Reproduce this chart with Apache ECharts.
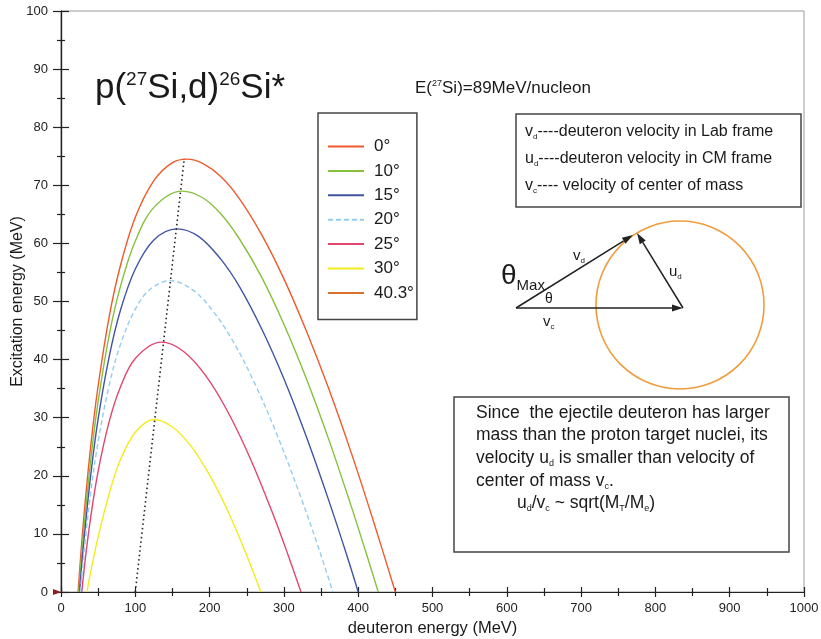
<!DOCTYPE html>
<html>
<head>
<meta charset="utf-8">
<script src="https://cdn.jsdelivr.net/npm/echarts@6/dist/echarts.min.js"></script>
<style>
  html, body { margin: 0; padding: 0; background: #fff; }
  #chart { width: 821px; height: 639px; }
</style>
</head>
<body>
<div id="chart"></div>
<script>
// lab angle of each kinematic curve
const angleNames = ['0°', '10°', '15°', '20°', '25°', '30°', '40.3°'];

// [deuteron energy (MeV), excitation energy (MeV)]
const curve0 = [[23, 0], [30, 11.8], [40, 25.1], [50, 35.5], [65, 47.5], [80, 56.2], [100, 64.5], [125, 70.8], [150, 73.9], [170, 74.5], [190, 73.8], [215, 71.5], [240, 67.7], [270, 61.5], [300, 53.9], [330, 45.0], [360, 35.1], [390, 24.2], [420, 12.4], [450, 0]];
const curve10 = [[24, 0], [30, 9.7], [40, 22.7], [50, 32.8], [65, 44.3], [80, 52.6], [100, 60.4], [125, 66.2], [163, 69.0], [190, 67.9], [215, 65.1], [240, 60.8], [270, 54.2], [300, 46.1], [330, 36.8], [360, 26.4], [390, 15.0], [410, 7.0], [427, 0]];
const curve15 = [[25, 0], [30, 7.7], [40, 20.1], [50, 29.8], [65, 40.6], [80, 48.5], [100, 55.6], [125, 60.6], [156, 62.5], [185, 61.2], [215, 57.3], [240, 52.6], [270, 45.3], [300, 36.7], [330, 26.8], [360, 15.9], [385, 6.2], [400, 0]];
const curve20 = [[26, 0], [30, 5.6], [40, 17.1], [50, 25.9], [65, 35.7], [80, 42.6], [100, 48.7], [120, 52.1], [147, 53.6], [175, 52.2], [200, 49.1], [230, 43.5], [260, 36.1], [290, 27.3], [320, 17.3], [345, 8.2], [366, 0]];
const curve25 = [[28, 0], [33, 6.0], [40, 12.9], [50, 20.8], [65, 29.4], [80, 35.3], [100, 40.2], [135, 43.0], [165, 41.4], [195, 37.2], [225, 30.9], [255, 22.9], [285, 13.5], [305, 6.6], [323, 0]];
const curve30 = [[35, 0], [40, 3.5], [50, 9.5], [65, 17.0], [80, 22.8], [100, 27.5], [125, 29.7], [150, 28.4], [175, 25.1], [200, 20.1], [225, 13.8], [250, 6.3], [269, 0]];
const curve40 = [];   // beyond theta max: legend only

// dotted line through the maxima
const peakLine = [[100, 0], [166, 74.7]];

const curves = [curve0, curve10, curve15, curve20, curve25, curve30, curve40];
const lineColors = ['#ee5a2c', '#86c03c', '#3f55a3', '#96cdee', '#e2466f', '#f3ec1f', '#d8702e'];
const lineTypes = ['solid', 'solid', 'solid', [5, 3], 'solid', 'solid', 'solid'];

const FONT = 'Liberation Sans, Arial, sans-serif';

const chart = echarts.init(document.getElementById('chart'));

const series = angleNames.map(function (name, i) {
  return {
    name: name,
    type: 'line',
    data: curves[i],
    symbol: 'none',
    smooth: 0.35,
    lineStyle: { color: lineColors[i], width: 1.4, type: lineTypes[i] },
    itemStyle: { color: lineColors[i] },
    z: 3
  };
});
// the maxima line sits on the twin axes (same ranges) so they get drawn too
series.push({
  name: 'maxima',
  type: 'line',
  xAxisIndex: 1,
  yAxisIndex: 1,
  data: peakLine,
  symbol: 'none',
  lineStyle: { color: '#222', width: 1.6, type: [1.5, 3] },
  z: 4
});

// arrow helper for the velocity sketch
function arrow(x1, y1, x2, y2) {
  const a = Math.atan2(y2 - y1, x2 - x1);
  const len = 11, hw = 3.5;
  const bx = x2 - len * Math.cos(a), by = y2 - len * Math.sin(a);
  return [
    { type: 'line', shape: { x1: x1, y1: y1, x2: bx, y2: by }, style: { stroke: '#222', lineWidth: 1.5 } },
    { type: 'polygon', shape: { points: [[x2, y2], [bx - hw * Math.sin(a), by + hw * Math.cos(a)], [bx + hw * Math.sin(a), by - hw * Math.cos(a)]] }, style: { fill: '#222' } }
  ];
}

function txt(x, y, text, size, rich) {
  return {
    type: 'text', x: x, y: y,
    style: { text: text, fontSize: size, fontFamily: FONT, fill: '#1a1a1a', verticalAlign: 'middle', rich: rich || {} }
  };
}

const subRich = function (size, drop) {
  return { s: { fontSize: size, fontFamily: FONT, fill: '#1a1a1a', padding: [drop, 0, 0, 0] } };
};

const graphics = [
  txt(95, 88, 'p({sup|27}Si,d){sup|26}Si*', 35, {
    sup: { fontSize: 19, fontFamily: FONT, fill: '#1a1a1a', padding: [0, 0, 17, 0] }
  }),
  txt(415, 88, 'E({sup|27}Si)=89MeV/nucleon', 17, {
    sup: { fontSize: 9, fontFamily: FONT, fill: '#1a1a1a', padding: [0, 0, 9, 0] }
  }),
  // small marker at the origin
  { type: 'polygon', shape: { points: [[53, 589], [61, 592], [53, 595]] }, style: { fill: '#8a1c1c' }, z: 10 },
  // definitions box
  { type: 'rect', shape: { x: 516, y: 114, width: 285, height: 93 }, style: { fill: '#fff', stroke: '#444', lineWidth: 1.5 } },
  txt(525, 132, 'v{s|d}----deuteron velocity in Lab frame', 16, subRich(8, 10)),
  txt(525, 159, 'u{s|d}----deuteron velocity in CM frame', 16, subRich(8, 10)),
  txt(525, 186, 'v{s|c}---- velocity of center of mass', 16, subRich(8, 10)),
  // velocity sketch
  { type: 'circle', shape: { cx: 680, cy: 305, r: 84 }, style: { fill: 'none', stroke: '#ef9c3c', lineWidth: 1.6 } }
].concat(arrow(516, 308, 683, 308), arrow(683, 308, 637, 233), arrow(516, 308, 633, 235), [
  txt(501, 276, 'θ{s|Max}', 28, { s: { fontSize: 15, fontFamily: FONT, fill: '#1a1a1a', padding: [20, 0, 0, 0] } }),
  txt(573, 256, 'v{s|d}', 15, subRich(8, 10)),
  txt(669, 272, 'u{s|d}', 15, subRich(8, 10)),
  txt(545, 299, 'θ', 14),
  txt(543, 322, 'v{s|c}', 15, subRich(8, 10)),
  // explanation box
  { type: 'rect', shape: { x: 454, y: 397, width: 335, height: 155 }, style: { fill: '#fff', stroke: '#444', lineWidth: 1.5 } },
  txt(476, 413, 'Since  the ejectile deuteron has larger', 17.5),
  txt(476, 435, 'mass than the proton target nuclei, its', 17.5),
  txt(476, 458, 'velocity u{s|d} is smaller than velocity of', 17.5, subRich(9, 11)),
  txt(476, 481, 'center of mass v{s|c}.', 17.5, subRich(9, 11)),
  txt(517, 503, 'u{s|d}/v{s|c} ~ sqrt(M{s|T}/M{s|e})', 17.5, subRich(9, 11))
]);

const plainLabel = function (v) { return String(v); };

const option = {
  animation: false,
  backgroundColor: '#fff',
  grid: {
    left: 61, right: 17, top: 11, bottom: 47,
    outerBoundsMode: 'none', containLabel: false,
    show: true, borderColor: '#9a9a9a', borderWidth: 1
  },
  legend: {
    data: angleNames,
    orient: 'vertical',
    left: 318,
    top: 113,
    itemWidth: 36,
    itemHeight: 14,
    itemGap: 7.4,
    padding: [25, 3, 18, 9],
    borderColor: '#444',
    borderWidth: 1.5,
    backgroundColor: '#fff',
    itemStyle: { opacity: 0 },
    textStyle: { fontSize: 17, color: '#1a1a1a', fontFamily: FONT, padding: [0, 0, 0, 5] }
  },
  xAxis: [{
    type: 'value', min: 0, max: 1000, interval: 100,
    name: 'deuteron energy (MeV)', nameLocation: 'middle', nameGap: 28, nameMoveOverlap: false,
    nameTextStyle: { fontSize: 16.5, color: '#1a1a1a', fontFamily: FONT },
    axisLine: { show: true, onZero: false, lineStyle: { color: '#222', width: 1.2 } },
    axisTick: { show: true, length: 5, lineStyle: { color: '#222', width: 1.2 } },
    minorTick: { show: true, splitNumber: 2, length: 4, lineStyle: { color: '#222', width: 1.2 } },
    splitLine: { show: false },
    axisLabel: { margin: 10, fontSize: 13, color: '#222', fontFamily: FONT, formatter: plainLabel }
  }, {
    // twin axis: only its inward ticks are visible
    type: 'value', min: 0, max: 1000, interval: 100, position: 'bottom',
    axisLine: { show: true, onZero: false, lineStyle: { color: '#222', width: 1.2 } },
    axisTick: { show: true, inside: true, length: 5, lineStyle: { color: '#222', width: 1.2 } },
    minorTick: { show: true, splitNumber: 2, length: 4, lineStyle: { color: '#222', width: 1.2 } },
    splitLine: { show: false },
    axisLabel: { show: true, color: 'rgba(0,0,0,0)', fontSize: 13, formatter: plainLabel }
  }],
  yAxis: [{
    type: 'value', min: 0, max: 100, interval: 10,
    name: 'Excitation energy (MeV)', nameLocation: 'middle', nameGap: 35, nameMoveOverlap: false,
    nameTextStyle: { fontSize: 16, color: '#1a1a1a', fontFamily: FONT },
    axisLine: { show: true, onZero: false, lineStyle: { color: '#222', width: 1.2 } },
    axisTick: { show: true, length: 8, lineStyle: { color: '#222', width: 1.2 } },
    minorTick: { show: true, splitNumber: 2, length: 4, lineStyle: { color: '#222', width: 1.2 } },
    splitLine: { show: false },
    axisLabel: { margin: 13, fontSize: 13, color: '#222', fontFamily: FONT, formatter: plainLabel }
  }, {
    // twin axis moved onto the left edge so its outward ticks point into the plot
    type: 'value', min: 0, max: 100, interval: 10, position: 'right', offset: -743,
    axisLine: { show: true, onZero: false, lineStyle: { color: '#222', width: 1.2 } },
    axisTick: { show: true, inside: false, length: 8, lineStyle: { color: '#222', width: 1.2 } },
    minorTick: { show: true, splitNumber: 2, length: 4, lineStyle: { color: '#222', width: 1.2 } },
    splitLine: { show: false },
    axisLabel: { show: true, color: 'rgba(0,0,0,0)', fontSize: 13, formatter: plainLabel }
  }],
  series: series,
  graphic: graphics
};

chart.setOption(option);
</script>
</body>
</html>
